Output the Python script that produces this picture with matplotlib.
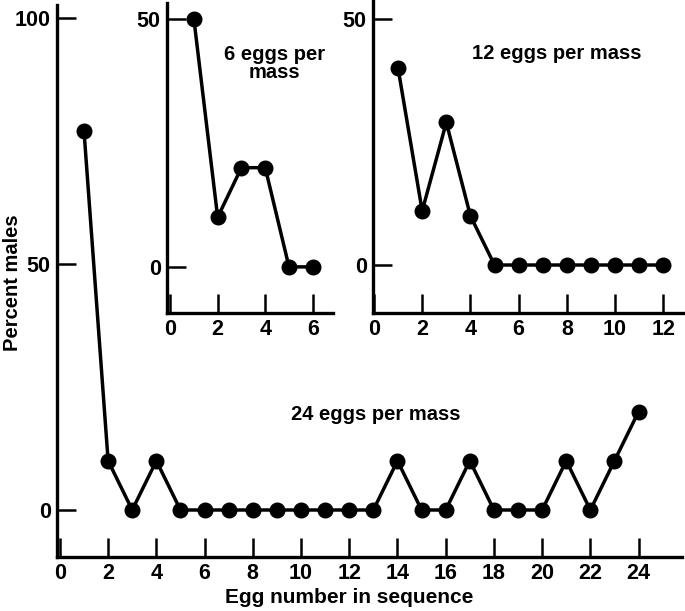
import matplotlib
matplotlib.use("Agg")
import matplotlib.pyplot as plt

plt.rcParams['font.family'] = ['Liberation Sans', 'DejaVu Sans']
plt.rcParams['font.weight'] = 'bold'
plt.rcParams['axes.labelweight'] = 'bold'
plt.rcParams['font.size'] = 14.5

# percent males by egg position in the mass
eggs24 = list(range(1, 25))
males24 = [77, 10, 0, 10, 0, 0, 0, 0, 0, 0, 0, 0, 0, 10, 0, 0, 10, 0, 0, 0, 10, 0, 10, 20]

eggs6 = list(range(1, 7))
males6 = [50, 10, 20, 20, 0, 0]

eggs12 = list(range(1, 13))
males12 = [40, 11, 29, 10, 0, 0, 0, 0, 0, 0, 0, 0]

W, H = 685, 611
fig = plt.figure(figsize=(W / 100, H / 100), dpi=100)


def style(ax, xticks, yticks):
    for s in ['top', 'right']:
        ax.spines[s].set_visible(False)
    for s in ['left', 'bottom']:
        ax.spines[s].set_linewidth(2.4)
    ax.set_xticks(xticks)
    ax.set_yticks(yticks)
    ax.tick_params(direction='in', length=13.5, width=1.8, pad=4.5, labelsize=15.5)
    ax.patch.set_alpha(0)


def box(l, t, r, b):
    return [l / W, 1 - b / H, (r - l) / W, (b - t) / H]


ax = fig.add_axes(box(57, 5, 682, 557))
ax.plot(eggs24, males24, color='black', lw=2.5, marker='o', ms=10.5)
ax.set_xlim(-0.12, 25.8)
ax.set_ylim(-9.55, 102.6)
style(ax, range(0, 25, 2), [0, 50, 100])
ax.set_xlabel('Egg number in sequence', labelpad=3, x=0.467, fontsize=15)
fig.text(12 / W, 1 - 283 / H, 'Percent males', rotation=90,
         ha='center', va='center', fontsize=14.5)
ax.text(13.1, 19.5, '24 eggs per mass', ha='center', va='center')

ax1 = fig.add_axes(box(167, 3, 333, 313))
ax1.plot(eggs6, males6, color='black', lw=2.5, marker='o', ms=10.5)
ax1.set_xlim(-0.13, 6.85)
ax1.set_ylim(-9.3, 53.2)
style(ax1, [0, 2, 4, 6], [0, 50])
ax1.text(4.4, 41, '6 eggs per\nmass', ha='center', va='center', linespacing=0.95)

ax2 = fig.add_axes(box(373, 0, 685, 313))
ax2.plot(eggs12, males12, color='black', lw=2.5, marker='o', ms=10.5)
ax2.set_xlim(-0.04, 12.9)
ax2.set_ylim(-9.76, 53.9)
style(ax2, range(0, 13, 2), [0, 50])
ax2.text(7.6, 43, '12 eggs per mass', ha='center', va='center')

fig.savefig('out.png', dpi=100)
